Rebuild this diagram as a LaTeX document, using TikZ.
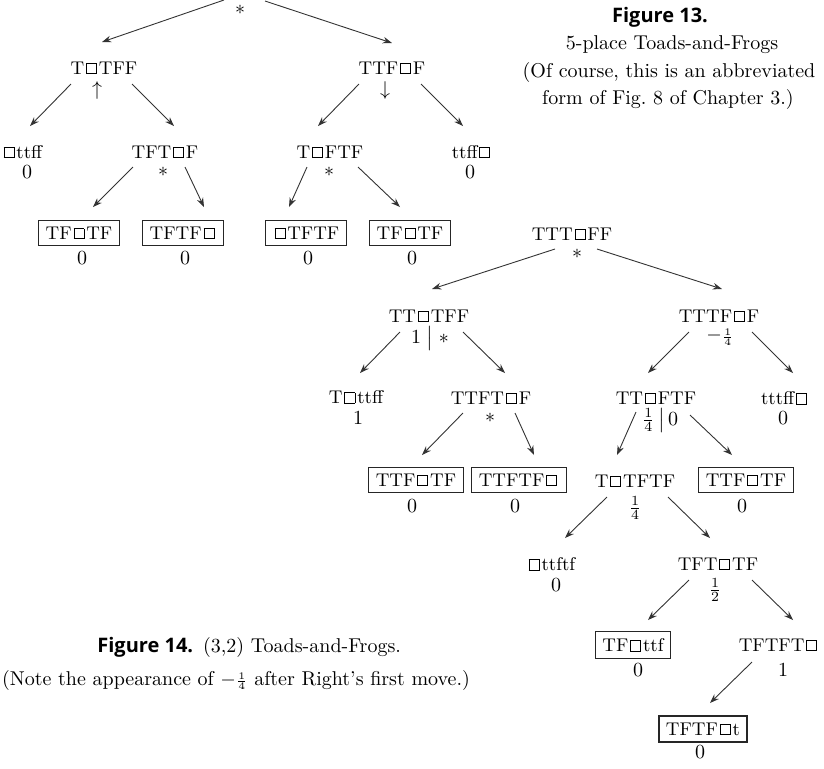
\documentclass[tikz,border=0pt]{standalone}
\usepackage{fontspec}
\usepackage{amsmath}
\newfontfamily\capfont{Open Sans}
\usetikzlibrary{arrows.meta}

% empty cell of the board
\newcommand{\hole}{\mbox{\kern0.1em\raisebox{0.45pt}{\setlength{\fboxsep}{0pt}\setlength{\fboxrule}{0.45pt}\fbox{\rule{0pt}{0.5em}\rule{0.5em}{0pt}}}\kern0.1em}}
% move arrow between two positions, with offsets from their centres
\newcommand{\link}[4]{\draw[arr] ([shift={(#2)}]#1.center) -- ([shift={(#4)}]#3.center);}
\newcommand{\treefont}{\fontsize{9.2}{11}\selectfont}

\tikzset{
  posn/.style={inner sep=0pt, font=\treefont},
  boxed/.style={draw=black!85, line width=0.6pt, inner xsep=3.5pt, inner ysep=3.3pt, font=\treefont},
  val/.style={inner sep=0pt},
  capt/.style={inner sep=0pt},
  arr/.style={-{Stealth[length=4.6pt,width=3.3pt]}, line width=0.45pt, draw=black!80}
}

\begin{document}
\begin{tikzpicture}[x=0.5pt, y=-0.5pt]
\useasboundingbox (0,0) rectangle (824,768);

% ---------- 5-place Toads-and-Frogs ----------
\node[val] (r13) at (240,10) {$*$};
\node[posn] (a) at (104,68) {T\hole TFF};
\node[val] (a1) at (97,90) {$\uparrow$};
\node[posn] (b) at (392,68) {TTF\hole F};
\node[val] (b1) at (385,90) {$\downarrow$};

\node[posn] (c) at (22,152) {\hole ttff};
\node[val] (c0) at (27,172) {0};
\node[posn] (d) at (165,152) {TFT\hole F};
\node[val] (d0) at (163,172) {$*$};
\node[posn] (e) at (330,152) {T\hole FTF};
\node[val] (e0) at (329,172) {$*$};
\node[posn] (f) at (472,152) {ttff\hole};
\node[val] (f0) at (470,172) {0};

\node[boxed] (g) at (79,233) {TF\hole TF};
\node[val] (g0) at (82,258) {0};
\node[boxed] (h) at (183,233) {TFTF\hole};
\node[val] (h0) at (185,258) {0};
\node[boxed] (i) at (306,233) {\hole TFTF};
\node[val] (i0) at (308,258) {0};
\node[boxed] (j) at (410,233) {TF\hole TF};
\node[val] (j0) at (412,258) {0};

\link{r13}{-16,-10}{a}{-2,-26}
\link{r13}{25,-9}{b}{0,-25}
\link{a}{-33,16}{c}{8,-26}
\link{a}{28,16}{d}{9,-26}
\link{b}{-33,16}{e}{-12,-26}
\link{b}{29,16}{f}{-9,-26}
\link{d}{-32,15}{g}{14,-26}
\link{d}{20,15}{h}{21,-26}
\link{e}{-23,15}{i}{-17,-26}
\link{e}{28,15}{j}{-10,-26}

\node[capt] (cap13a) at (660,17) {\capfont\bfseries Figure 13.};
\node[capt] (cap13b) at (672,45) {5-place Toads-and-Frogs};
\node[capt] (cap13c) at (669,72) {(Of course, this is an abbreviated};
\node[capt] (cap13d) at (668,99) {form of Fig.~8 of Chapter 3.)};

% ---------- (3,2) Toads-and-Frogs ----------
\node[posn] (R) at (572,234) {TTT\hole FF};
\node[val] (R0) at (577,254) {$*$};
\node[posn] (A) at (429,316) {TT\hole TFF};
\node[val] (A0) at (430,338) {$1\;\big|\;*$};
\node[posn] (B) at (719,316) {TTTF\hole F};
\node[val] (B0) at (720,337) {$-{\scriptstyle\frac{1}{4}}$};

\node[posn] (C) at (356,397) {T\hole ttff};
\node[val] (C0) at (358,418) {1};
\node[posn] (D) at (491,398) {TTFT\hole F};
\node[val] (D0) at (490,418) {$*$};
\node[posn] (E) at (656,398) {TT\hole FTF};
\node[val] (E0) at (660,420) {$\frac{1}{4}\,\big|\,0$};
\node[posn] (F) at (785,398) {tttff\hole};
\node[val] (F0) at (783,418) {0};

\node[boxed] (G) at (416,480) {TTF\hole TF};
\node[val] (G0) at (412,506) {0};
\node[boxed] (H) at (519,480) {TTFTF\hole};
\node[val] (H0) at (515,506) {0};
\node[posn] (I) at (635,481) {T\hole TFTF};
\node[val] (I0) at (635,508) {$\frac{1}{4}$};
\node[boxed] (J) at (746,480) {TTF\hole TF};
\node[val] (J0) at (742,506) {0};

\node[posn] (K) at (551,564) {\hole ttftf};
\node[val] (K0) at (556,585) {0};
\node[posn] (L) at (718,564) {TFT\hole TF};
\node[val] (L0) at (715,590) {$\frac{1}{2}$};

\node[boxed] (M) at (633,645) {TF\hole ttf};
\node[val] (M0) at (638,670) {0};
\node[posn] (N) at (779,645) {TFTFT\hole};
\node[val] (N0) at (783,670) {1};

\node[boxed] (O) at (703,729) {TFTF\hole t};
\node[val] (O0) at (700,752) {0};

\link{R}{-17,15}{A}{3,-27}
\link{R}{25,15}{B}{3,-27}
\link{A}{-29,16}{C}{4,-24}
\link{A}{34,16}{D}{14,-25}
\link{B}{-30,16}{E}{-8,-25}
\link{B}{33,16}{F}{8,-25}
\link{D}{-28,15}{G}{6,-25}
\link{D}{24,15}{H}{15,-25}
\link{E}{-20,14}{I}{-18,-26}
\link{E}{34,17}{J}{-14,-25}
\link{I}{-28,16}{K}{14,-26}
\link{I}{33,16}{L}{-8,-26}
\link{L}{-29,16}{M}{15,-25}
\link{L}{34,16}{N}{14,-25}
\link{N}{-27,17}{O}{7,-26}

\node[capt, anchor=base west] (cap14a) at (97,652) {{\capfont\bfseries Figure 14.}\enspace(3,2) Toads-and-Frogs.};
\node[capt] (cap14b) at (236,680) {(Note the appearance of $-{\scriptstyle\frac{1}{4}}$ after Right's first move.)};
\end{tikzpicture}
\end{document}
